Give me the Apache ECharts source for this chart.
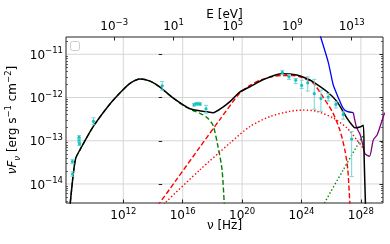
<!DOCTYPE html>
<html><head><meta charset="utf-8">
<script src="https://cdn.jsdelivr.net/npm/echarts@6/dist/echarts.min.js"></script>
<style>html,body{margin:0;padding:0;background:#fff;overflow:hidden}#c{position:absolute;left:0;top:0;width:390px;height:244px}</style>
</head><body><div id="c"></div>
<script>
// log10(nu [Hz]) vs log10(nuF_nu [erg s^-1 cm^-2])
const xTicks = [12, 16, 20, 24, 28];
const eTicks = [-3, 1, 5, 9, 13];
const yTicks = [-14, -13, -12, -11];

const totalModel = [[8.38,-14.6],[8.55,-14.02],[8.68,-13.63],[8.81,-13.39],[9.08,-13.21],[9.96,-12.68],[11.1,-12.15],[11.98,-11.82],[12.5,-11.66],[13.12,-11.57],[13.8,-11.62],[14.47,-11.76],[15.35,-12.01],[16.49,-12.26],[17.64,-12.33],[18.04,-12.35],[18.71,-12.22],[19.2,-12.09],[19.86,-11.87],[20.53,-11.75],[21.4,-11.59],[22.69,-11.45],[23.69,-11.48],[24.43,-11.57],[24.76,-11.63],[25.71,-11.86],[26.38,-12.09],[27.05,-12.47],[27.39,-12.63],[27.6,-12.7],[27.94,-12.68],[28.16,-12.64],[28.22,-13.4],[28.32,-14.6]];
const syncComp = [[8.38,-14.6],[8.55,-14.02],[8.68,-13.63],[8.81,-13.39],[9.08,-13.21],[9.96,-12.68],[11.1,-12.15],[11.98,-11.82],[12.5,-11.66],[13.12,-11.57],[13.8,-11.62],[14.47,-11.76],[15.35,-12.01],[16.2,-12.22],[16.7,-12.3],[17.2,-12.37],[17.65,-12.47],[18.04,-12.64],[18.38,-13.14],[18.65,-13.67],[18.82,-14.6]];
const sscComp = [[14.3,-14.51],[15.5,-13.94],[17.17,-13.14],[18.5,-12.51],[19.86,-11.89],[20.53,-11.72],[21.2,-11.6],[22,-11.52],[22.75,-11.49],[23.4,-11.49],[23.89,-11.52],[24.76,-11.66],[25.44,-11.98],[26.11,-12.35],[26.58,-12.75],[26.92,-13.21],[27.12,-13.67],[27.28,-14.6]];
const ecComp = [[14.6,-14.55],[14.81,-14.44],[17.17,-13.67],[19.19,-13.05],[20.53,-12.67],[21.88,-12.44],[23.22,-12.32],[24.1,-12.29],[25.04,-12.32],[26.11,-12.47],[27.05,-12.7],[27.73,-12.98],[28.13,-13.16]];
const hadComp = [[25.4,-14.6],[25.57,-14.43],[26.8,-13.68],[28.06,-12.93],[28.15,-12.88]];
const sensBlue = [[25.2,-10.5],[25.29,-10.6],[25.8,-11.18],[26.14,-11.71],[26.32,-11.87],[26.6,-12.1],[26.81,-12.25],[27.06,-12.32],[27.49,-12.35]];
const sensPurple = [[27.49,-12.35],[27.7,-12.68],[27.94,-12.85],[28.1,-13.05],[28.28,-13.3],[28.57,-13.36],[28.84,-12.98],[29.1,-12.86],[29.4,-12.56],[29.6,-12.35]];
// [log nu, log nuFnu, lower, upper]
const obsPoints = [
 [8.57,-13.48,-13.53,-13.43],[8.58,-13.77,-13.82,-13.72],
 [9.02,-12.92,-12.96,-12.88],[9.02,-13.0,-13.04,-12.96],[9.05,-13.07,-13.11,-13.03],
 [9.99,-12.55,-12.63,-12.47],
 [14.62,-11.73,-11.83,-11.63],
 [16.77,-12.17,-12.2,-12.14],[16.9,-12.15,-12.18,-12.12],[17.03,-12.14,-12.17,-12.11],[17.17,-12.15,-12.18,-12.12],
 [17.57,-12.26,-12.36,-12.18],
 [22.71,-11.42,-11.47,-11.37],[23.16,-11.52,-11.58,-11.47],[23.61,-11.6,-11.68,-11.56],[24.01,-11.72,-11.79,-11.6],
 [24.42,-11.66,-11.85,-11.52],[24.86,-11.91,-12.27,-11.58],[25.31,-12.02,-12.32,-11.83],[25.8,-11.99,-12.08,-11.91],
 [26.32,-12.16,-12.24,-12.1],[26.81,-12.39,-12.5,-12.33],[27.38,-12.96,-13.83,-12.79]
];

const X_MIN = 8.14, X_MAX = 29.49, Y_MIN = -14.44, Y_MAX = -10.6;
const E_OFF = Math.log10(4.135667e-15);
const yMinor = [];
for (let n = -15; n <= -11; n++) for (let k = 2; k <= 9; k++) { const v = n + Math.log10(k); if (v > Y_MIN && v < Y_MAX) yMinor.push(v); }

const FF = 'DejaVu Sans';
const pow = v => { const e = Math.round(v); return '{b|10}{s|' + (e < 0 ? '\u2212' + (-e) : e) + '}'; };
const rich = { b: {fontSize: 12, fontFamily: FF, color: '#000', verticalAlign: 'bottom'},
               s: {fontSize: 8.5, fontFamily: FF, color: '#000', verticalAlign: 'bottom', padding: [0,0,6,0]} };
const hidden = {show: false};

const chart = echarts.init(document.getElementById('c'), null, {renderer: 'canvas', width: 390, height: 244});
const lineS = (data, color, width, type, z) => ({type: 'line', data, symbol: 'none', smooth: 0.25, clip: true, z: z || 2, zlevel: 1,
  lineStyle: {color, width, type: type || 'solid'}, silent: true, animation: false});
const gridData = xTicks.map(v => [v, 0]).concat(yTicks.map(v => [v, 1]));

chart.setOption({
  animation: false,
  backgroundColor: '#fff',
  grid: {left: 66, right: 7, top: 37, bottom: 41, outerBoundsMode: 'none', containLabel: false,
         show: true, borderColor: '#222', borderWidth: 1, backgroundColor: 'transparent', z: 10},
  xAxis: [
    {type: 'value', min: X_MIN, max: X_MAX, position: 'bottom',
     name: '\u03bd [Hz]', nameLocation: 'middle', nameGap: 17, nameMoveOverlap: false,
     nameTextStyle: {fontSize: 12, fontFamily: FF, color: '#000'},
     axisLine: hidden,
     axisTick: {show: true, inside: true, length: 3.5, lineStyle: {color: '#222'}, customValues: xTicks},
     axisLabel: {show: true, margin: 4, formatter: pow, rich, customValues: xTicks},
     splitLine: hidden},
    {type: 'value', min: X_MIN + E_OFF, max: X_MAX + E_OFF, position: 'top',
     name: 'E [eV]', nameLocation: 'middle', nameGap: 16, nameMoveOverlap: false,
     nameTextStyle: {fontSize: 12, fontFamily: FF, color: '#000'},
     axisLine: hidden,
     axisTick: {show: true, inside: true, length: 3.5, lineStyle: {color: '#222'}, customValues: eTicks},
     axisLabel: {show: true, margin: 4, formatter: pow, rich, customValues: eTicks},
     splitLine: hidden}
  ],
  yAxis: [
    {type: 'value', min: Y_MIN, max: Y_MAX, position: 'left',
     name: '{i|\u03bdF}{sb|\u03bd}{n| [erg s}{sp|\u22121}{n| cm}{sp|\u22122}{n|]}',
     nameLocation: 'middle', nameGap: 44, nameRotate: 90, nameMoveOverlap: false,
     nameTextStyle: {rich: {
       i: {fontSize: 12, fontFamily: FF, fontStyle: 'italic', color: '#000', verticalAlign: 'bottom', padding: [0,0,3,0]},
       sb: {fontSize: 8.5, fontFamily: FF, fontStyle: 'italic', color: '#000', verticalAlign: 'bottom', padding: [0,0,0,0]},
       n: {fontSize: 12, fontFamily: FF, color: '#000', verticalAlign: 'bottom', padding: [0,0,3,0]},
       sp: {fontSize: 8.5, fontFamily: FF, color: '#000', verticalAlign: 'bottom', padding: [0,0,9,0]}}},
     axisLine: hidden,
     axisTick: {show: true, inside: true, length: 3.5, lineStyle: {color: '#222'}, customValues: yTicks},
     axisLabel: {show: true, margin: 3, formatter: pow, rich, customValues: yTicks},
     splitLine: hidden},
    {type: 'value', min: Y_MIN, max: Y_MAX, position: 'left', axisLine: hidden, axisLabel: hidden, splitLine: hidden,
     axisTick: {show: true, inside: true, length: 2, lineStyle: {color: '#222', width: 0.7}, customValues: yMinor}},
    {type: 'value', min: Y_MIN, max: Y_MAX, position: 'right', axisLine: hidden, axisLabel: hidden, splitLine: hidden,
     axisTick: {show: true, inside: true, length: 3.5, lineStyle: {color: '#222'}, customValues: yTicks}},
    {type: 'value', min: Y_MIN, max: Y_MAX, position: 'right', axisLine: hidden, axisLabel: hidden, splitLine: hidden,
     axisTick: {show: true, inside: true, length: 2, lineStyle: {color: '#222', width: 0.7}, customValues: yMinor}}
  ],
  graphic: [{type: 'rect', zlevel: 2, shape: {x: 70.5, y: 41.5, width: 9, height: 9, r: 2}, style: {fill: '#fff', stroke: '#cccccc', lineWidth: 1}, z: 100}],
  series: [
    {type: 'custom', data: gridData, clip: true, z: 0, zlevel: 0, silent: true,
     renderItem: (params, api) => {
       const v = api.value(0), vert = api.value(1) === 0;
       const a = vert ? api.coord([v, Y_MIN]) : api.coord([X_MIN, v]);
       const b = vert ? api.coord([v, Y_MAX]) : api.coord([X_MAX, v]);
       return {type: 'line', shape: {x1: a[0], y1: a[1], x2: b[0], y2: b[1]}, style: {stroke: '#d6d6d6', lineWidth: 1}};
     }},
    lineS(sensBlue, '#0000ff', 1.3),
    lineS(sensPurple, '#800080', 1.3),
    lineS(syncComp, '#008000', 1.4, [5, 2.5]),
    lineS(sscComp, '#ff0000', 1.4, [5, 2.5]),
    lineS(ecComp, '#ff0000', 1.4, [1.4, 2.2]),
    lineS(hadComp, '#008000', 1.4, [1.4, 2.2]),
    lineS(totalModel, '#000000', 1.5, 'solid', 3),
    {type: 'custom', data: obsPoints, clip: true, z: 4, zlevel: 1, silent: true,
     renderItem: (params, api) => {
       const c = api.coord([api.value(0), api.value(1)]);
       const lo = api.coord([api.value(0), api.value(2)]);
       const hi = api.coord([api.value(0), api.value(3)]);
       const w = 2, st = {stroke: '#6fd6d6', lineWidth: 1};
       return {type: 'group', children: [
         {type: 'line', shape: {x1: c[0], y1: lo[1], x2: c[0], y2: hi[1]}, style: st},
         {type: 'line', shape: {x1: c[0]-w, y1: lo[1], x2: c[0]+w, y2: lo[1]}, style: st},
         {type: 'line', shape: {x1: c[0]-w, y1: hi[1], x2: c[0]+w, y2: hi[1]}, style: st},
         {type: 'circle', shape: {cx: c[0], cy: c[1], r: 1.6}, style: {fill: '#17bfbf'}}
       ]};
     }}
  ]
});
</script></body></html>
